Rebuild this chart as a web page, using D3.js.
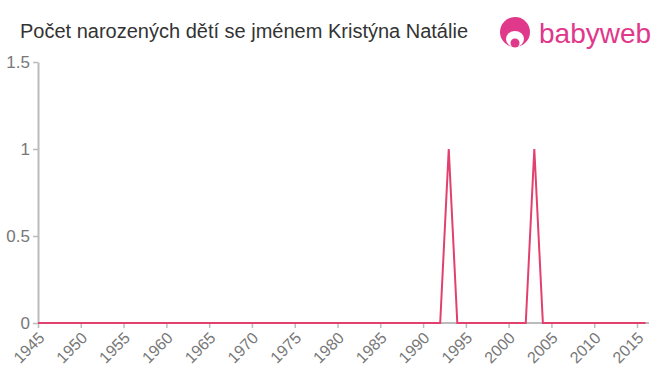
<!DOCTYPE html>
<html>
<head>
<meta charset="utf-8">
<script src="https://cdn.jsdelivr.net/npm/d3@7"></script>
<style>
  body { margin: 0; background: #fff; }
  svg { font-family: "Liberation Sans", Arial, sans-serif; }
</style>
</head>
<body>
<div id="chart"></div>
<script>
const TITLE = "Počet narozených dětí se jménem Kristýna Natálie";
const YEARS = d3.range(1945, 2017);
const PEAK_YEARS = [1993, 2003];
const COUNTS = YEARS.map(y => PEAK_YEARS.includes(y) ? 1 : 0);
const X_TICKS = d3.range(1945, 2016, 5);
const Y_TICKS = [0, 0.5, 1, 1.5];

const W = 660, H = 375;
const MARGIN = { LEFT: 38, RIGHT: 11, TOP: 62, BOTTOM: 52 };

const svg = d3.select("#chart").append("svg")
    .attr("width", W)
    .attr("height", H);

svg.append("text")
    .attr("x", 20)
    .attr("y", 38)
    .attr("font-size", "20px")
    .attr("fill", "#333")
    .text(TITLE);

// logo
const logo = svg.append("g").attr("transform", "translate(500,17)");
logo.append("circle").attr("cx", 15).attr("cy", 15).attr("r", 15).attr("fill", "#e0388a");
logo.append("ellipse").attr("cx", 15).attr("cy", 22).attr("rx", 9).attr("ry", 8).attr("fill", "#fff");
logo.append("circle").attr("cx", 15).attr("cy", 26).attr("r", 4.5).attr("fill", "#e0388a");
logo.append("text")
    .attr("x", 39)
    .attr("y", 26)
    .attr("font-size", "28px")
    .attr("fill", "#e0388a")
    .text("babyweb");

const x = d3.scaleLinear()
    .domain([1945, 2015])
    .range([MARGIN.LEFT, 637]);

const y = d3.scaleLinear()
    .domain([0, 1.5])
    .range([H - MARGIN.BOTTOM, MARGIN.TOP]);

const xAxis = svg.append("g")
    .attr("transform", `translate(0, ${H - MARGIN.BOTTOM})`)
    .call(d3.axisBottom(x).tickValues(X_TICKS).tickFormat(d3.format("d")).tickSize(5).tickSizeOuter(0));
xAxis.select(".domain").attr("d", `M${MARGIN.LEFT},0H${W - MARGIN.RIGHT}`);
xAxis.selectAll("text")
    .attr("font-size", "16px")
    .attr("fill", "#777")
    .style("text-anchor", "end")
    .attr("x", 0)
    .attr("y", 0)
    .attr("dy", "0.35em")
    .attr("transform", "translate(3,12) rotate(-45)");

const yAxis = svg.append("g")
    .attr("transform", `translate(${MARGIN.LEFT}, 0)`)
    .call(d3.axisLeft(y).tickValues(Y_TICKS).tickFormat(d => d).tickSize(5).tickSizeOuter(0));
yAxis.selectAll("text")
    .attr("font-size", "17px")
    .attr("fill", "#777")
    .attr("x", -8);

svg.selectAll(".domain, .tick line")
    .attr("stroke", "#bbb")
    .attr("stroke-width", 2);
svg.selectAll(".tick line").attr("stroke-width", 1.5);

const line = d3.line()
    .x((d, i) => x(YEARS[i]))
    .y(d => y(d));

svg.append("path")
    .datum(COUNTS)
    .attr("d", line)
    .attr("fill", "none")
    .attr("stroke", "#e2406f")
    .attr("stroke-width", 2);
</script>
</body>
</html>
